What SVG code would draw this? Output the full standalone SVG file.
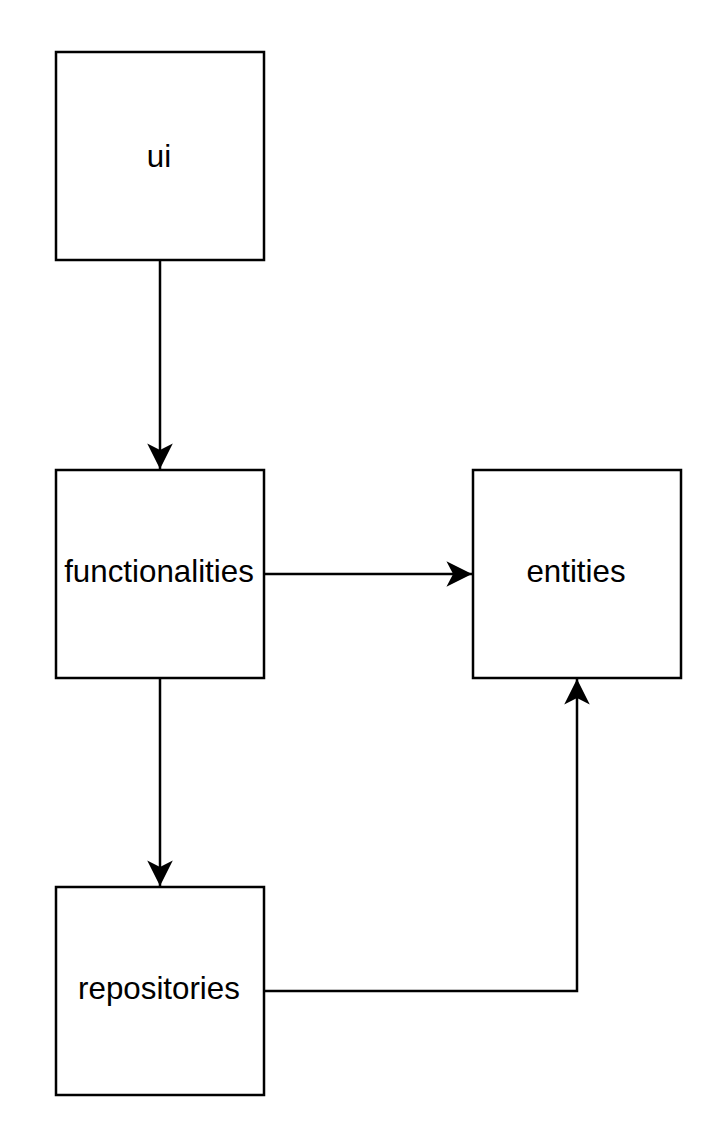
<svg xmlns="http://www.w3.org/2000/svg" width="724" height="1144" viewBox="0 0 724 1144">
<style>
.box{fill:#fff;stroke:#000;stroke-width:2.5}
.lbl{font-family:"Liberation Sans",Arial,sans-serif;font-size:31.3px;fill:#000;text-anchor:middle}
.edge{fill:none;stroke:#000;stroke-width:2.5}
</style>
<defs>
<marker id="arr" markerUnits="userSpaceOnUse" markerWidth="30" markerHeight="30" refX="0" refY="0" viewBox="-25 -13 27 26" orient="auto">
<path d="M0,0 L-23,-11.5 L-17,0 L-23,11.5 Z" fill="#000"/>
</marker>
</defs>
<rect width="724" height="1144" fill="#fff"/>
<g id="connectors">
<path class="edge" d="M160,260 V469" marker-end="url(#arr)"/>
<path class="edge" d="M264,574 H472" marker-end="url(#arr)"/>
<path class="edge" d="M160,678 V886" marker-end="url(#arr)"/>
<path class="edge" d="M264,991 H577 V679" marker-end="url(#arr)"/>
</g>
<g id="ui"><rect class="box" x="56" y="52" width="208" height="208"/><text class="lbl" x="159" y="167">ui</text></g>
<g id="functionalities"><rect class="box" x="56" y="470" width="208" height="208"/><text class="lbl" x="159" y="582">functionalities</text></g>
<g id="entities"><rect class="box" x="473" y="470" width="208" height="208"/><text class="lbl" x="576" y="582">entities</text></g>
<g id="repositories"><rect class="box" x="56" y="887" width="208" height="208"/><text class="lbl" x="159" y="999">repositories</text></g>
</svg>
